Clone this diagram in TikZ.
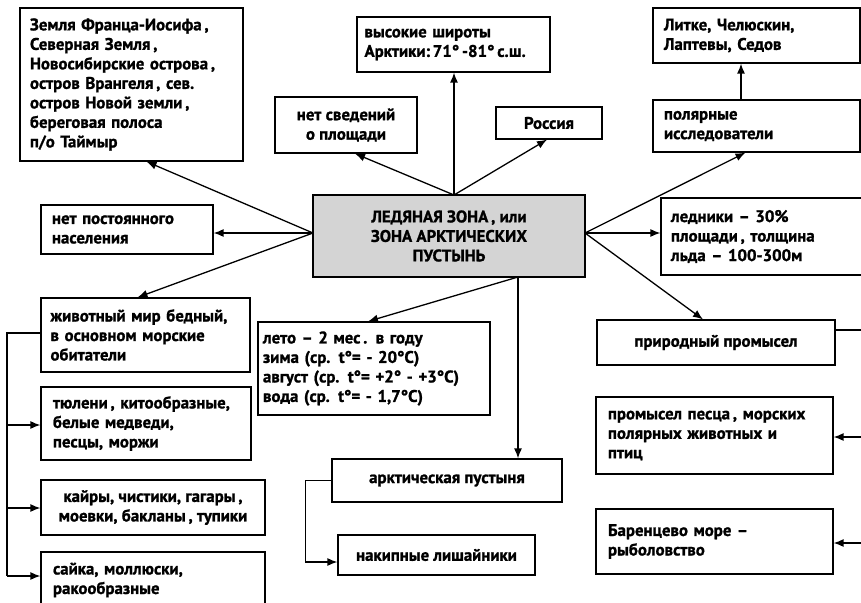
\documentclass[tikz,border=0pt]{standalone}
\usepackage{fontspec}
\setmainfont{PT Sans}[BoldFeatures={FakeBold=1.2}]
\usetikzlibrary{arrows.meta,calc}
\begin{document}
\begin{tikzpicture}[x=1pt,y=-1pt,
  box/.style={draw,line width=1.2pt,inner sep=0pt,font=\bfseries\fontsize{16.8}{19.5}\selectfont},
  lbox/.style={box,align=left},
  cbox/.style={box,align=center},
  arr/.style={line width=1.3pt,-{Latex[length=10pt,width=8pt]}},
  ln/.style={line width=1.3pt}]
\clip (0,0) rectangle (861,602);
\fill[white] (0,0) rectangle (861,602);
% boxes
\node[cbox,fill=black!17,line width=2pt,minimum width=272pt,minimum height=82pt] (main) at (449,236) {ЛЕДЯНАЯ ЗОНА\,, или\\ЗОНА АРКТИЧЕСКИХ\\ПУСТЫНЬ};
\node[lbox,minimum width=223pt,minimum height=153pt,text width=203pt] (zem) at (131.5,84.5) {Земля Франца-Иосифа\,,\\Северная Земля\,,\\Новосибирские острова\,,\\остров Врангеля\,, сев.\\остров Новой земли\,,\\береговая полоса\\п/о Таймыр};
\node[lbox,minimum width=193pt,minimum height=55pt,text width=178pt] (vys) at (453.5,44.5) {высокие широты\\\mbox{Арктики:\,71°\,-81°\,с.ш.}};
\node[cbox,minimum width=142pt,minimum height=56pt] (netsv) at (346,125) {нет сведений\\о площади};
\node[cbox,minimum width=106pt,minimum height=32pt] (ros) at (549,123) {Россия};
\node[lbox,minimum width=207pt,minimum height=55pt,text width=185pt] (litke) at (756.5,35.5) {Литке, Челюскин,\\Лаптевы, Седов};
\node[lbox,minimum width=207pt,minimum height=52pt,text width=185pt] (polyar) at (756.5,126) {полярные\\исследователи};
\node[lbox,minimum width=172pt,minimum height=49pt,text width=150pt] (netpost) at (127,229.5) {нет постоянного\\населения};
\node[lbox,minimum width=219pt,minimum height=77pt,text width=199pt] (led) at (770.5,236.5) {ледники – 30\%\\площади\,, толщина\\льда – 100-300м};
\node[lbox,minimum width=209pt,minimum height=74pt,text width=190pt] (zhiv) at (145.5,335) {животный мир бедный,\\в основном морские\\обитатели};
\node[lbox,minimum width=232pt,minimum height=93pt,text width=222pt] (leto) at (374,368.5) {лето – 2 мес\,. в году\\зима (ср. t°= - 20°C)\\август (ср. t°= +2° - +3°C)\\вода (ср. t°= - 1,7°C)};
\node[cbox,minimum width=238pt,minimum height=45pt] (prir) at (716,342.5) {природный промысел};
\node[lbox,minimum width=237pt,minimum height=77pt,text width=213pt] (pesc) at (714.5,435.5) {промысел песца\,, морских\\полярных животных и\\птиц};
\node[lbox,minimum width=237pt,minimum height=65pt,text width=213pt] (bar) at (714.5,541.5) {Баренцево море –\\рыболовство};
\node[cbox,minimum width=230pt,minimum height=43pt] (arkt) at (447,480.5) {арктическая пустыня};
\node[cbox,minimum width=197pt,minimum height=40pt] (nakip) at (436.5,555) {накипные лишайники};
\node[lbox,minimum width=210pt,minimum height=73pt,text width=186pt] (tyul) at (146,423.5) {тюлени\,, китообразные,\\белые медведи,\\песцы, моржи};
\node[cbox,minimum width=224pt,minimum height=55pt] (kair) at (153,507.5) {кайры, чистики, гагары\,,\\моевки, бакланы\,, тупики};
\node[lbox,minimum width=224pt,minimum height=56pt,text width=200pt] (sayka) at (153,580) {сайка, моллюски,\\ракообразные};
% hub points
\coordinate (mtop) at (454,195);
\coordinate (mleft) at (313,233);
\coordinate (mright) at (585,233);
\coordinate (mbot) at (518,277);
\coordinate (lk) at (741,0);
% connectors
\draw[arr] (mtop) -- (mtop |- vys.south);
\draw[arr] (mtop) -- ($(netsv.south)+(9,0)$);
\draw[arr] (mtop) -- ($(ros.south)+(-2,0)$);
\draw[arr] (mleft) -- ($(zem.south)+(15,0)$);
\draw[arr] (mleft) -- (mleft -| netpost.east);
\draw[arr] (mleft) -- ($(zhiv.north)+(-8,0)$);
\draw[arr] (mright) -- ($(polyar.south)+(-11,0)$);
\draw[arr] (mright) -- (mright -| led.west);
\draw[arr] (mright) -- ($(prir.north)+(-13,0)$);
\draw[arr] (lk |- polyar.north) -- (lk |- litke.south);
\draw[arr] (mbot) -- ($(leto.north)+(-6,0)$);
\draw[arr] (mbot) -- (mbot |- arkt.north);
\coordinate (ak) at ($(arkt.west)+(-26,0)$);
\draw[ln] (arkt.west) -- (ak);
\draw[arr] (ak) |- ($(nakip.west)+(0,7)$);
\coordinate (zk) at (7,333);
\draw[ln] (zk -| zhiv.west) -- (zk) -- (7,576);
\draw[arr] (7,425) -- (tyul.west |- 0,425);
\draw[arr] (7,508) -- (kair.west |- 0,508);
\draw[arr] (7,576) -- (sayka.west |- 0,576);
\coordinate (pk) at (875,330);
\draw[ln] (prir.east |- pk) -- (pk) -- (875,543);
\draw[arr] (875,437) -- (pesc.east |- 0,437);
\draw[arr] (875,543) -- (bar.east |- 0,543);
\end{tikzpicture}
\end{document}
